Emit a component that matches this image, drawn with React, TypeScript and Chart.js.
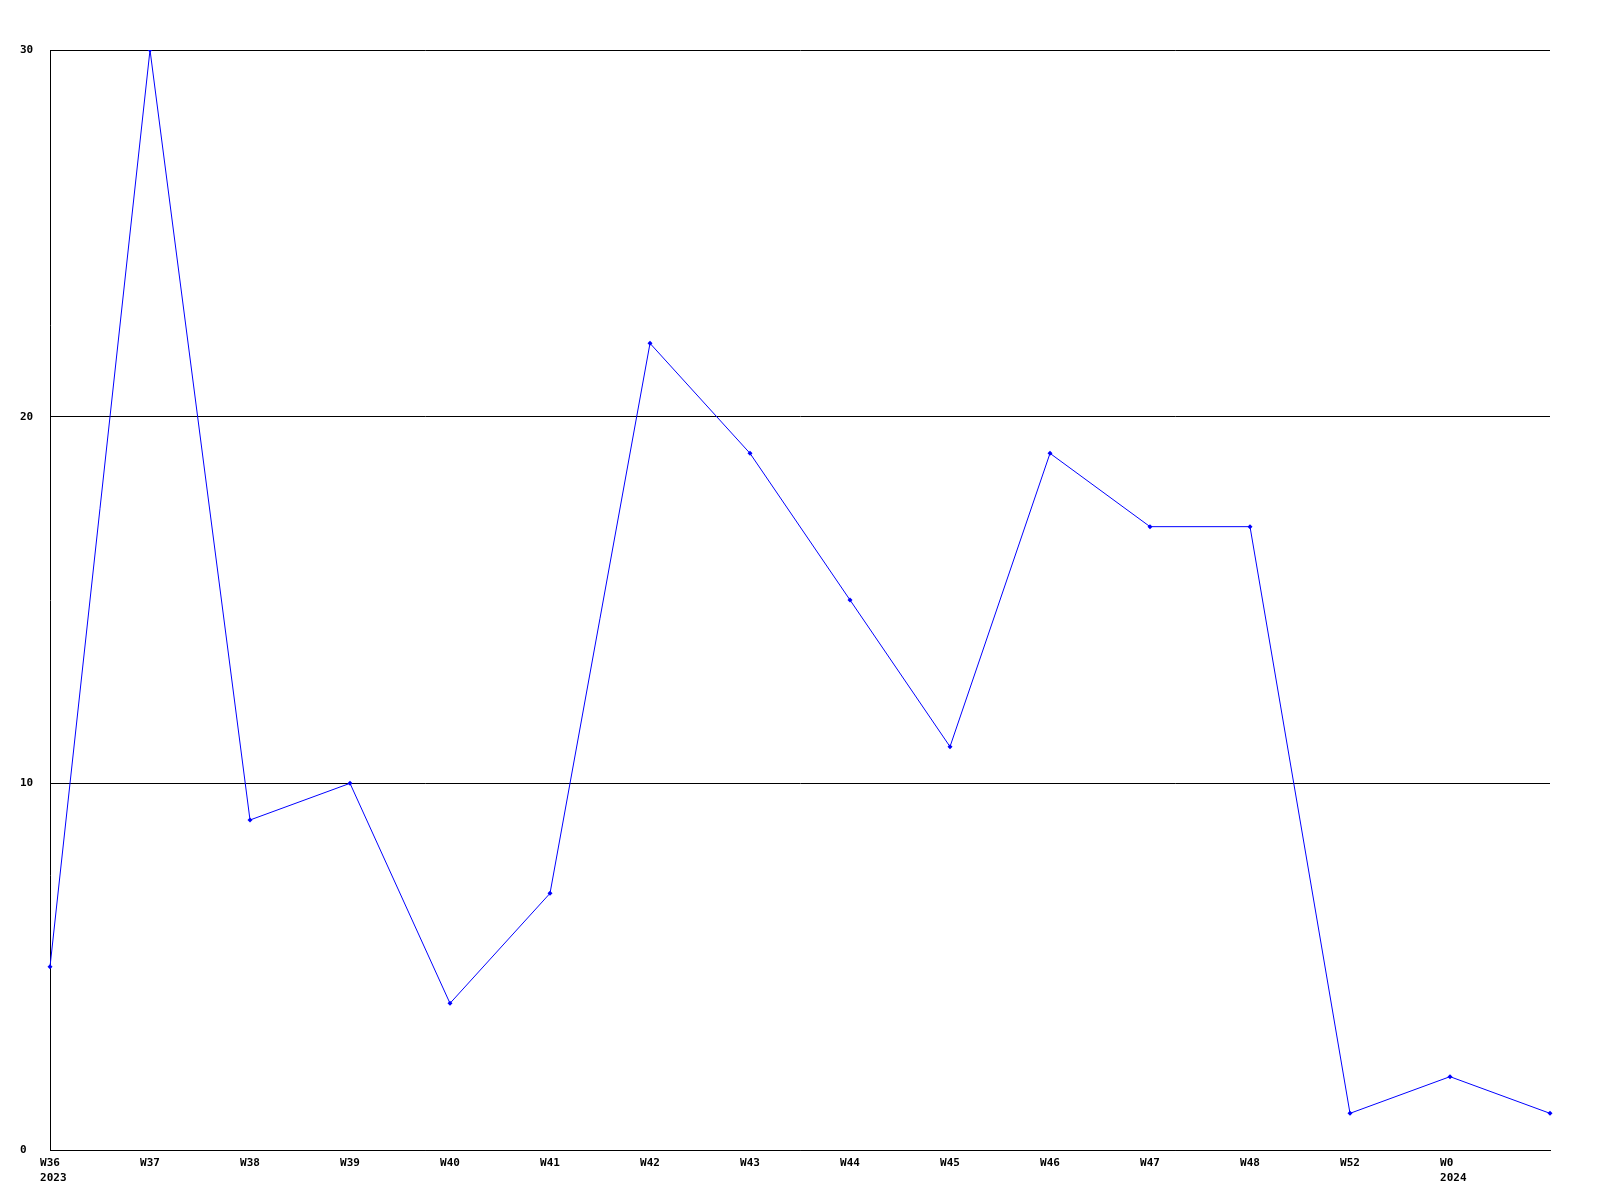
import React, { useEffect, useRef } from "react";
import { Chart, registerables } from "chart.js";

Chart.register(...registerables);

const weekLabels: (string | string[])[] = [
  ["W36", "2023"], "W37", "W38", "W39", "W40", "W41", "W42", "W43",
  "W44", "W45", "W46", "W47", "W48", "W52", ["W0", "2024"], "",
];
const seriesValues: number[] = [5, 30, 9, 10, 4, 7, 22, 19, 15, 11, 19, 17, 17, 1, 2, 1];
const yTicks: number[] = [0, 10, 20, 30];

const FONT = { family: "'DejaVu Sans Mono', 'Liberation Mono', monospace", size: 11, weight: "bold" as const, lineHeight: 1.35 };

// labels start 1.5 characters left of the tick (monospace): pad each line so centring yields that
const alignLine = (s: string) => {
  if (s.length === 0) return s;
  if (s.length < 3) return s + " ".repeat(3 - s.length);
  return " ".repeat(s.length - 3) + s;
};
const formatLabel = (lab: string | string[]) =>
  Array.isArray(lab) ? lab.map(alignLine) : alignLine(lab);

export default function App() {
  const ref = useRef<HTMLCanvasElement | null>(null);
  useEffect(() => {
    if (!ref.current) return;
    const chart = new Chart(ref.current, {
      type: "line",
      data: {
        labels: weekLabels,
        datasets: [
          {
            data: seriesValues,
            borderColor: "#0000ff",
            backgroundColor: "#0000ff",
            borderWidth: 1,
            pointRadius: 2.5,
            pointStyle: "rectRot",
            pointBorderWidth: 0,
            tension: 0,
            fill: false,
          },
        ],
      },
      options: {
        responsive: false,
        animation: false,
        layout: { padding: { left: 20, top: 50, right: 50, bottom: 0 } },
        plugins: { legend: { display: false }, tooltip: { enabled: false }, title: { display: false } },
        scales: {
          x: {
            offset: false,
            grid: { display: false, drawTicks: false },
            border: { display: true, color: "#000000", width: 1 },
            ticks: {
              color: "#000000",
              font: FONT,
              padding: 6,
              maxRotation: 0,
              autoSkip: false,
              callback: (_v: any, i: number) => formatLabel(weekLabels[i]),
            },
            afterFit: (s: any) => { s.height = 50; },
          },
          y: {
            min: 0,
            max: 30,
            afterBuildTicks: (s: any) => { s.ticks = yTicks.map((v) => ({ value: v })); },
            grid: { display: true, color: "#000000", lineWidth: 1, drawTicks: false },
            border: { display: true, color: "#000000", width: 1 },
            ticks: {
              color: "#000000",
              font: { ...FONT, lineHeight: 1.2 },
              crossAlign: "far",
              padding: 0,
            },
            afterFit: (s: any) => { s.width = 30; },
          },
        },
      },
    });
    return () => chart.destroy();
  }, []);
  return (
    <div style={{ position: "fixed", left: 0, top: 0, width: 1600, height: 1200, background: "#ffffff" }}>
      <canvas ref={ref} width={1600} height={1200} style={{ width: 1600, height: 1200, display: "block" }} />
    </div>
  );
}
